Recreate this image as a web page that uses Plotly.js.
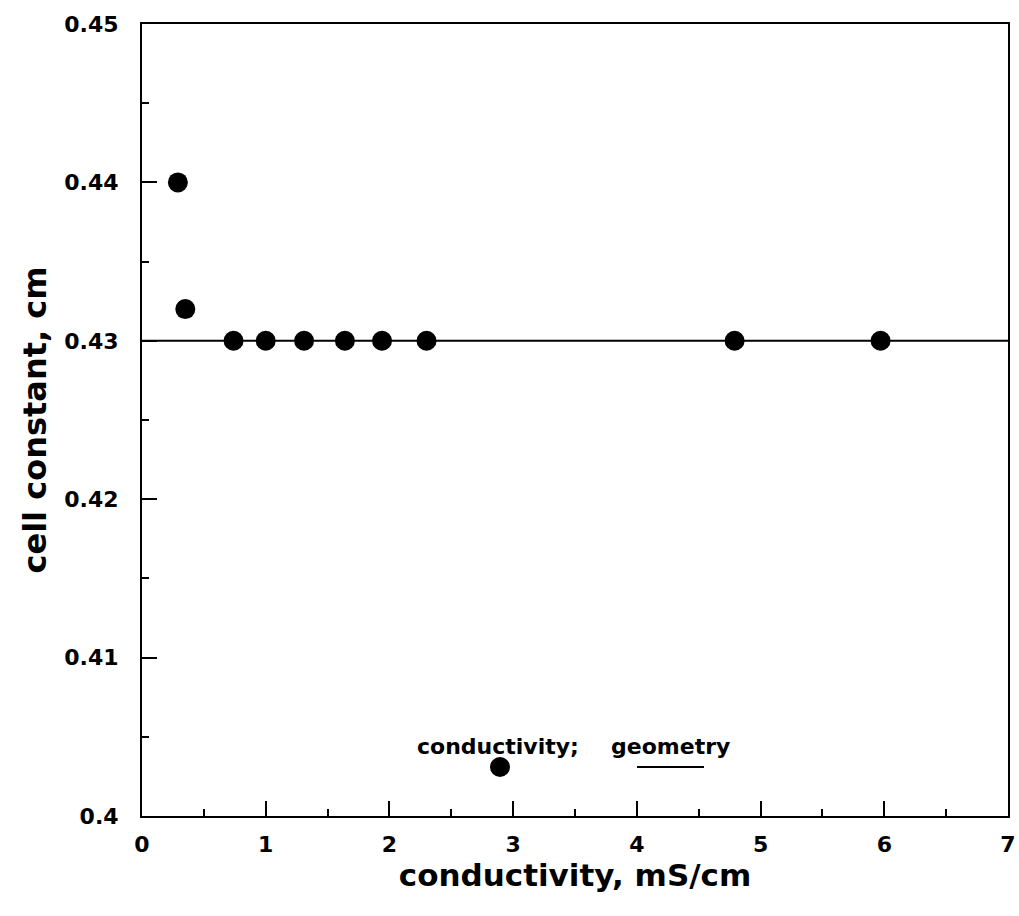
<!DOCTYPE html>
<html>
<head>
<meta charset="utf-8">
<script src="https://cdn.plot.ly/plotly-3.0.1.min.js"></script>
<style>html,body{margin:0;padding:0;background:#fff;}#chart{width:1019px;height:916px;}</style>
</head>
<body>
<div id="chart"></div>
<script>
// data
const conductivity = [0.29, 0.35, 0.74, 1.0, 1.31, 1.64, 1.94, 2.30, 4.79, 5.97];
const cellConstant = [0.440, 0.432, 0.430, 0.430, 0.430, 0.430, 0.430, 0.430, 0.430, 0.430];
const geometryX = [0, 7];
const geometryY = [0.43, 0.43];
const xTicks = [0, 1, 2, 3, 4, 5, 6, 7];
const yTicks = [0.40, 0.41, 0.42, 0.43, 0.44, 0.45];
const yTickText = ['0.4', '0.41', '0.42', '0.43', '0.44', '0.45'];

const FONT = 'DejaVu Sans, Liberation Sans, Arial, sans-serif';

const traces = [
  {x: geometryX, y: geometryY, mode: 'lines', line: {color: '#000', width: 2}, name: 'geometry', showlegend: false, hoverinfo: 'skip'},
  {x: conductivity, y: cellConstant, mode: 'markers', marker: {color: '#000', size: 20}, name: 'conductivity', showlegend: false}
];

const L = 142, T = 24, R = 1008, B = 816;
const W = R - L, H = B - T;
const px = v => (v - L) / W;
const py = v => (B - v) / H;

const layout = {
  width: 1019, height: 916,
  margin: {l: L, r: 1019 - R, t: T, b: 916 - B},
  paper_bgcolor: '#fff', plot_bgcolor: '#fff',
  showlegend: false,
  font: {family: FONT, color: '#000'},
  xaxis: {
    range: [0, 7], tickvals: xTicks, ticks: 'inside', ticklen: 15, tickwidth: 2, tickcolor: '#000',
    minor: {dtick: 0.5, ticks: 'inside', ticklen: 7, tickwidth: 2, tickcolor: '#000'},
    showline: true, mirror: true, linecolor: '#000', linewidth: 2, showgrid: false, zeroline: false,
    ticklabelstandoff: 8,
    tickfont: {family: FONT, size: 22, color: '#000', weight: 'bold'},
    title: {text: '<b>conductivity, mS/cm</b>', font: {family: FONT, size: 31, color: '#000'}, standoff: 6}
  },
  yaxis: {
    range: [0.40, 0.45], tickvals: yTicks, ticktext: yTickText, ticks: 'inside', ticklen: 15, tickwidth: 2, tickcolor: '#000',
    minor: {dtick: 0.005, ticks: 'inside', ticklen: 7, tickwidth: 2, tickcolor: '#000'},
    showline: true, mirror: true, linecolor: '#000', linewidth: 2, showgrid: false, zeroline: false,
    ticklabelstandoff: 17,
    tickfont: {family: FONT, size: 22, color: '#000', weight: 'bold'},
    title: {text: '<b>cell constant, cm</b>', font: {family: FONT, size: 32, color: '#000'}, standoff: 8}
  },
  annotations: [
    {xref: 'paper', yref: 'paper', x: px(498), y: py(746), text: '<b>conductivity;</b>', showarrow: false,
     xanchor: 'center', yanchor: 'middle', font: {family: FONT, size: 22, color: '#000'}},
    {xref: 'paper', yref: 'paper', x: px(670), y: py(746), text: '<b>geometry</b>', showarrow: false,
     xanchor: 'center', yanchor: 'middle', font: {family: FONT, size: 22, color: '#000'}}
  ],
  shapes: [
    {type: 'circle', xref: 'paper', yref: 'paper', xsizemode: 'pixel', ysizemode: 'pixel',
     xanchor: px(500), yanchor: py(767), x0: -10, x1: 10, y0: -10, y1: 10,
     fillcolor: '#000', line: {color: '#000', width: 0}},
    {type: 'line', xref: 'paper', yref: 'paper', x0: px(637), x1: px(704), y0: py(767), y1: py(767),
     line: {color: '#000', width: 2}}
  ]
};

Plotly.newPlot('chart', traces, layout, {staticPlot: true, displayModeBar: false});
</script>
</body>
</html>
